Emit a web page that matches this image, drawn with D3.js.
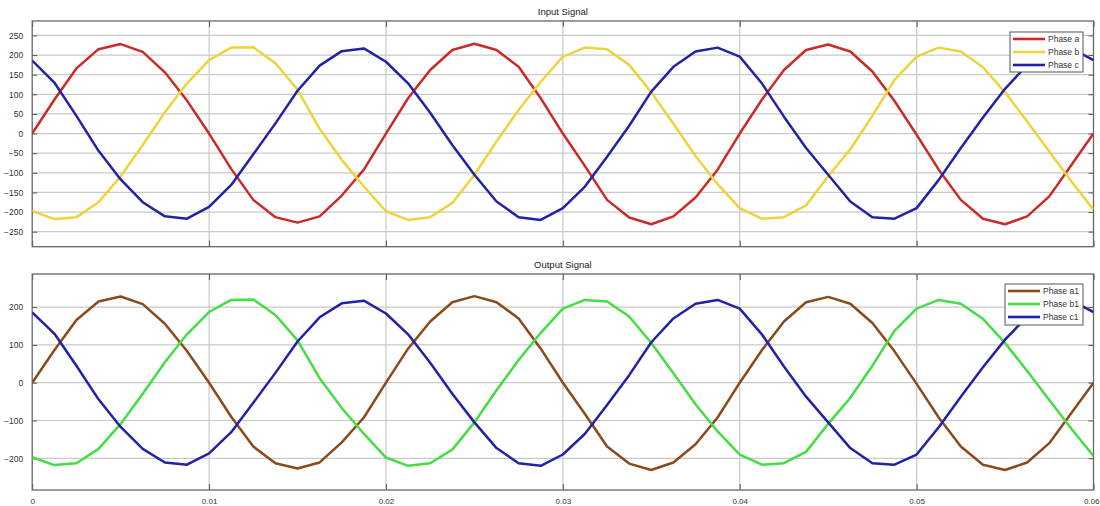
<!DOCTYPE html>
<html><head><meta charset="utf-8">
<script src="https://cdn.jsdelivr.net/npm/d3@7"></script>
<style>
body{margin:0;background:#fff;}
svg{display:block;font-family:"Liberation Sans",Arial,sans-serif;}
</style></head>
<body><svg id="c" width="1100" height="506"></svg>
<script>
const timeStep = 0.00125;
const xTicks = [0, 0.01, 0.02, 0.03, 0.04, 0.05, 0.06];
const xTickLabels = ["0", "0.01", "0.02", "0.03", "0.04", "0.05", "0.06"];
const yTicksTop = [250, 200, 150, 100, 50, 0, -50, -100, -150, -200, -250];
const yTicksBottom = [200, 100, 0, -100, -200];
const titles = ["Input Signal", "Output Signal"];
const namesTop = ["Phase a", "Phase b", "Phase c"];
const namesBottom = ["Phase a1", "Phase b1", "Phase c1"];

const phaseA = [0,86,166,215,228,208,156,84,0,-90,-169,-213,-227,-211,-158,-92,0,90,162,213,229,213,170,90,0,-83,-169,-214,-231,-211,-163,-92,0,86,162,213,227,209,158,83,-3,-92,-169,-217,-231,-211,-160,-80,0];
const phaseB = [-197,-218,-213,-175,-109,-29,54,128,187,219,220,179,112,12,-67,-135,-198,-220,-213,-177,-105,-20,60,132,196,219,215,175,105,25,-57,-129,-190,-217,-213,-183,-109,-40,45,137,196,219,209,169,105,31,-46,-122,-194];
const phaseC = [186,130,45,-44,-117,-175,-211,-217,-187,-131,-53,26,109,173,210,217,183,128,53,-29,-105,-173,-213,-220,-190,-135,-59,20,107,170,209,219,196,128,43,-37,-105,-173,-213,-217,-190,-118,-37,41,114,175,209,217,187];

const phaseA1 = [0,86,166,215,228,208,156,84,0,-90,-169,-213,-227,-211,-158,-92,0,90,162,213,229,213,170,90,0,-83,-169,-214,-231,-211,-163,-92,0,86,162,213,227,209,158,83,-3,-92,-169,-217,-231,-211,-160,-80,0];
const phaseB1 = [-197,-218,-213,-175,-109,-29,54,128,187,219,220,179,112,12,-67,-135,-198,-220,-213,-177,-105,-20,60,132,196,219,215,175,105,25,-57,-129,-190,-217,-213,-183,-109,-40,45,137,196,219,209,169,105,31,-46,-122,-194];
const phaseC1 = [186,130,45,-44,-117,-175,-211,-217,-187,-131,-53,26,109,173,210,217,183,128,53,-29,-105,-173,-213,-220,-190,-135,-59,20,107,170,209,219,196,128,43,-37,-105,-173,-213,-217,-190,-118,-37,41,114,175,209,217,187];

const colorsTop = ["#cc2a28", "#ecd43a", "#2222a6"];
const colorsBottom = ["#8a4a1c", "#44dd44", "#2222a6"];

const svg = d3.select("#c");
const x = d3.scaleLinear().domain([0, 0.06]).range([32.2, 1093.5]);

const panels = [
  {title: titles[0], top: 21, bottom: 246.7, domain: [-288.3, 286.8], yticks: yTicksTop,
   series: [phaseA, phaseB, phaseC], names: namesTop, colors: colorsTop, showX: false,
   legend: {x: 1010, y: 32, w: 73, h: 40}},
  {title: titles[1], top: 274, bottom: 490, domain: [-283.9, 287.6], yticks: yTicksBottom,
   series: [phaseA1, phaseB1, phaseC1], names: namesBottom, colors: colorsBottom, showX: true,
   legend: {x: 1005, y: 284, w: 78, h: 41}}
];

panels.forEach(p => {
  const y = d3.scaleLinear().domain(p.domain).range([p.bottom, p.top]);
  const g = svg.append("g");
  const [x0, x1] = x.range();
  g.append("rect").attr("x", x0).attr("y", p.top).attr("width", x1 - x0).attr("height", p.bottom - p.top).attr("fill", "#fff");
  // grid
  g.selectAll(".hg").data(p.yticks).join("line")
    .attr("x1", x0).attr("x2", x1).attr("y1", d => y(d)).attr("y2", d => y(d))
    .attr("stroke", "#c9c9c9").attr("stroke-width", 1.2);
  g.selectAll(".vg").data(xTicks.slice(1, -1)).join("line")
    .attr("x1", d => x(d)).attr("x2", d => x(d)).attr("y1", p.top).attr("y2", p.bottom)
    .attr("stroke", "#c9c9c9").attr("stroke-width", 1.2);
  // axes (inward ticks)
  const yAxisL = d3.axisLeft(y).tickValues(p.yticks).tickSize(-5).tickPadding(9).tickFormat(d3.format("d"));
  const ga = g.append("g").attr("transform", `translate(${x0},0)`).call(yAxisL);
  ga.select(".domain").remove();
  ga.selectAll("line").attr("stroke", "#555");
  ga.selectAll("text").attr("font-size", 8.5).attr("fill", "#333");
  const yAxisR = d3.axisRight(y).tickValues(p.yticks).tickSize(-5).tickFormat("");
  const gr = g.append("g").attr("transform", `translate(${x1},0)`).call(yAxisR);
  gr.select(".domain").remove(); gr.selectAll("line").attr("stroke", "#555");
  const xAxisB = d3.axisBottom(x).tickValues(xTicks).tickSize(-6).tickPadding(8)
    .tickFormat((d, i) => p.showX ? xTickLabels[i] : "");
  const gb = g.append("g").attr("transform", `translate(0,${p.bottom})`).call(xAxisB);
  gb.select(".domain").remove(); gb.selectAll("line").attr("stroke", "#555");
  gb.selectAll("text").attr("font-size", 8).attr("fill", "#333");
  // keep the last label inside the page edge
  gb.selectAll("text").filter((d, i) => i === xTicks.length - 1)
    .attr("text-anchor", "end").attr("x", 1099 - x(xTicks[xTicks.length - 1]));
  const xAxisT = d3.axisTop(x).tickValues(xTicks).tickSize(-6).tickFormat("");
  const gt = g.append("g").attr("transform", `translate(0,${p.top})`).call(xAxisT);
  gt.select(".domain").remove(); gt.selectAll("line").attr("stroke", "#555");
  // box
  g.append("rect").attr("x", x0).attr("y", p.top).attr("width", x1 - x0).attr("height", p.bottom - p.top)
    .attr("fill", "none").attr("stroke", "#666").attr("stroke-width", 1.3);
  // clip
  const cid = "clip" + p.top;
  svg.append("clipPath").attr("id", cid).append("rect")
    .attr("x", x0).attr("y", p.top).attr("width", x1 - x0).attr("height", p.bottom - p.top);
  const line = d3.line().x((d, i) => x(i * timeStep)).y(d => y(d));
  const lg = g.append("g").attr("clip-path", `url(#${cid})`);
  p.series.forEach((s, i) => {
    lg.append("path").attr("d", line(s)).attr("fill", "none")
      .attr("stroke", p.colors[i]).attr("stroke-width", 2.5).attr("stroke-linejoin", "round");
  });
  // title
  g.append("text").attr("x", (x0 + x1) / 2).attr("y", p.top - 6).attr("text-anchor", "middle")
    .attr("font-size", 9.5).attr("fill", "#222").text(p.title);
  // legend
  const L = p.legend;
  const lgd = g.append("g");
  lgd.append("rect").attr("x", L.x).attr("y", L.y).attr("width", L.w).attr("height", L.h)
    .attr("fill", "#fff").attr("stroke", "#555").attr("stroke-width", 1);
  p.names.forEach((n, i) => {
    const yy = L.y + 7 + i * 13;
    lgd.append("line").attr("x1", L.x + 3).attr("x2", L.x + 35).attr("y1", yy).attr("y2", yy)
      .attr("stroke", p.colors[i]).attr("stroke-width", 2.6);
    lgd.append("text").attr("x", L.x + 38).attr("y", yy + 3).attr("font-size", 8.5).attr("fill", "#333").text(n);
  });
});
</script></body></html>
